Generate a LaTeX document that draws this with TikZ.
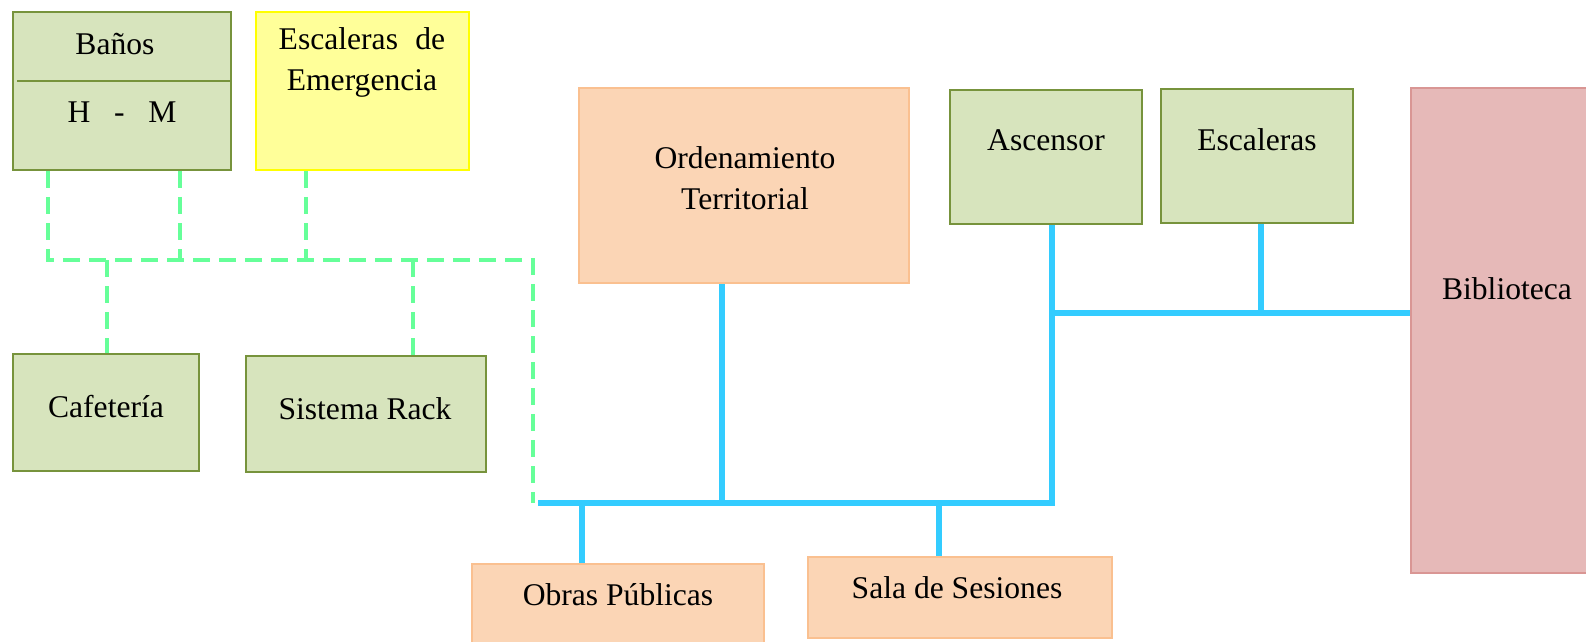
\documentclass[tikz,border=0pt]{standalone}
\usepackage{fontspec}
\setmainfont{Liberation Serif}
\definecolor{gfill}{HTML}{D7E4BD}
\definecolor{gline}{HTML}{77933C}
\definecolor{yfill}{HTML}{FFFF99}
\definecolor{yline}{HTML}{FFFF00}
\definecolor{ofill}{HTML}{FBD5B5}
\definecolor{oline}{HTML}{FAC090}
\definecolor{rfill}{HTML}{E6B9B8}
\definecolor{rline}{HTML}{D99694}
\definecolor{blueline}{HTML}{33CCFF}
\definecolor{dashgreen}{HTML}{66FF99}
\begin{document}
\begin{tikzpicture}[x=0.5pt,y=-0.5pt,
  box/.style={rectangle, inner sep=0pt, line width=1pt},
  gbox/.style={box, fill=gfill, draw=gline},
  ybox/.style={box, fill=yfill, draw=yline},
  obox/.style={box, fill=ofill, draw=oline},
  rbox/.style={box, fill=rfill, draw=rline},
  lbl/.style={inner sep=0pt, font=\fontsize{15.8}{20.5}\selectfont, align=center},
  gdash/.style={draw=dashgreen, line width=2pt, dash pattern=on 8.5pt off 4.5pt},
  bline/.style={draw=blueline, line width=3pt, line join=miter}]
\useasboundingbox (0,0) rectangle (1586,642);
\clip (0,0) rectangle (1586,642);
% boxes
\node[gbox, minimum width=109pt, minimum height=79pt] (banos) at (122,91) {};
\node[ybox, minimum width=106.5pt, minimum height=79pt] (escem) at (362.5,91) {};
\node[obox, minimum width=165pt, minimum height=97.5pt] (orden) at (744,185.5) {};
\node[gbox, minimum width=96pt, minimum height=67pt] (asc) at (1046,157) {};
\node[gbox, minimum width=96pt, minimum height=67pt] (esc) at (1257,156) {};
\node[rbox, minimum width=104.5pt, minimum height=242.5pt] (bib) at (1515.5,330.5) {};
\node[gbox, minimum width=93pt, minimum height=58.5pt] (caf) at (106,412.5) {};
\node[gbox, minimum width=120pt, minimum height=58pt] (rack) at (366,414) {};
\node[obox, minimum width=146pt, minimum height=48pt] (obras) at (618,612) {};
\node[obox, minimum width=152pt, minimum height=40.5pt] (sala) at (960,597.5) {};
% divider in Baños
\coordinate (dv) at (17,81);
\draw[gline, line width=1pt] (dv) -- (dv -| banos.east);
% labels
\node[lbl] (t-banos) at (115,44) {Baños};
\node[lbl] (t-hm) at (122,112) {H\hspace{0.75em}-\hspace{0.75em}M};
\node[lbl] (t-escem) at (362,62) {Escaleras\hspace{0.55em}de\\Emergencia};
\node[lbl] (t-orden) at (745,178) {Ordenamiento\\Territorial};
\node[lbl] (t-asc) at (1046,140) {Ascensor};
\node[lbl] (t-esc) at (1257,140) {Escaleras};
\node[lbl] (t-bib) at (1507,289) {Biblioteca};
\node[lbl] (t-caf) at (106,407) {Cafetería};
\node[lbl] (t-rack) at (365,409) {Sistema Rack};
\node[lbl] (t-obras) at (618,595) {Obras Públicas};
\node[lbl] (t-sala) at (957,588) {Sala de Sesiones};
% dashed green connectors
\coordinate (dl) at (48,260);
\coordinate (dm) at (180,260);
\coordinate (de) at (306,260);
\coordinate (dc) at (107,260);
\coordinate (ds) at (413,260);
\coordinate (dr) at (533,260);
\coordinate (db) at (533,503);
\draw[gdash] (banos.south -| dl) -- (dl) -- (dr) -- (db);
\draw[gdash] (banos.south -| dm) -- (dm);
\draw[gdash] (escem.south -| de) -- (de);
\draw[gdash] (dc) -- (caf.north -| dc);
\draw[gdash] (ds) -- (rack.north -| ds);
% blue connectors
\coordinate (bl) at (538,503);
\coordinate (br) at (1052,503);
\coordinate (bo) at (722,503);
\coordinate (bp) at (582,503);
\coordinate (bs) at (939,503);
\coordinate (ba) at (1052,313);
\coordinate (be) at (1261,313);
\draw[bline] (bl) -- (br) -- (asc.south -| br);
\draw[bline] (orden.south -| bo) -- (bo);
\draw[bline] (bp) -- (obras.north -| bp);
\draw[bline] (bs) -- (sala.north -| bs);
\draw[bline] (ba) -- (bib.west |- ba);
\draw[bline] (esc.south -| be) -- (be);
\end{tikzpicture}
\end{document}
